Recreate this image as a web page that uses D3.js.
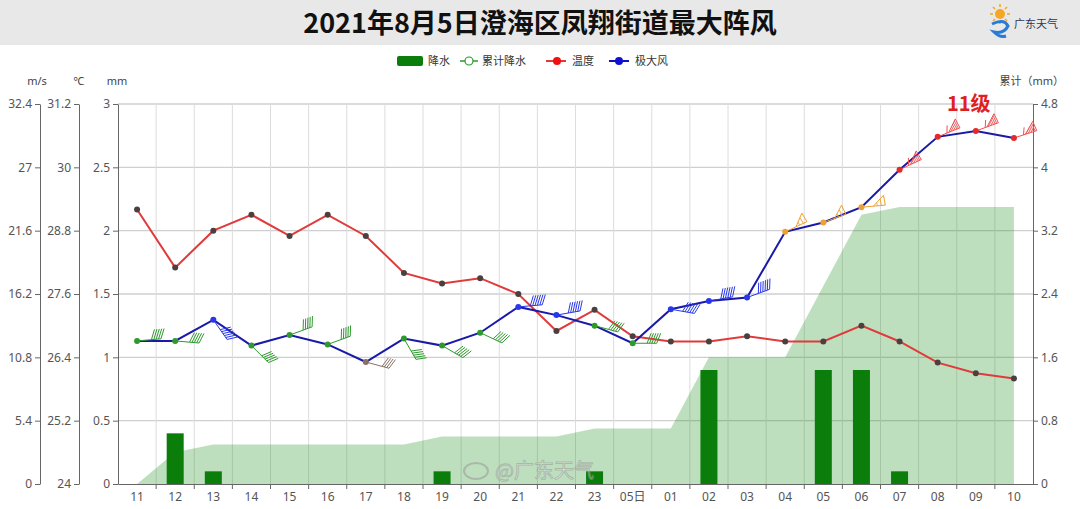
<!DOCTYPE html>
<html><head><meta charset="utf-8">
<script src="https://cdn.jsdelivr.net/npm/d3@7"></script>
<style>body{margin:0;background:#fff;} svg{display:block;font-family:"Noto Sans","Noto Sans CJK SC",sans-serif;}</style>
</head><body>
<svg id="c" width="1080" height="509"></svg>
<script>
const categories = ["11","12","13","14","15","16","17","18","19","20","21","22","23","05日","01","02","03","04","05","06","07","08","09","10"];
const rain = [0,0.4,0.1,0,0,0,0,0,0.1,0,0,0,0.1,0,0,0.9,0,0,0.9,0.9,0.1,0,0,0];
const cumRain = [0,0.4,0.5,0.5,0.5,0.5,0.5,0.5,0.6,0.6,0.6,0.6,0.7,0.7,0.7,1.6,1.6,1.6,2.5,3.4,3.5,3.5,3.5,3.5];
const temperature = [29.2,28.1,28.8,29.1,28.7,29.1,28.7,28.0,27.8,27.9,27.6,26.9,27.3,26.8,26.7,26.7,26.8,26.7,26.7,27.0,26.7,26.3,26.1,26.0];
const gust = [12.2,12.2,14.0,11.8,12.7,11.9,10.4,12.4,11.8,12.9,15.1,14.4,13.5,12.0,14.9,15.6,15.9,21.5,22.3,23.6,26.8,29.6,30.1,29.5];
const gustDir = [85,95,145,135,70,70,105,150,120,115,85,80,105,90,100,80,70,65,70,85,65,68,70,72];
const windTicks = [0,5.4,10.8,16.2,21.6,27,32.4];
const tempTicks = [24,25.2,26.4,27.6,28.8,30,31.2];
const mmTicks = [0,0.5,1,1.5,2,2.5,3];
const cumTicks = [0,0.8,1.6,2.4,3.2,4,4.8];
const beaufortLimits = [0.3,1.6,3.4,5.5,8.0,10.8,13.9,17.2,20.8,24.5,28.5,32.7];
const title = "2021年8月5日澄海区凤翔街道最大阵风";
const annotation = {cat:"09", text:"11级"};

const svg = d3.select("#c");
const L = 118, R = 1033, T = 104, B = 484;
const x = d3.scaleBand().domain(categories).range([L, R]);
const cx = c => x(c) + x.bandwidth()/2;
const yMm = d3.scaleLinear().domain([0,3]).range([B,T]);
const yWind = d3.scaleLinear().domain([0,32.4]).range([B,T]);
const yTemp = d3.scaleLinear().domain([24,31.2]).range([B,T]);
const yCum = d3.scaleLinear().domain([0,4.8]).range([B,T]);

// title bar
svg.append("rect").attr("x",0).attr("y",0).attr("width",1080).attr("height",45).attr("fill","#e8e8e8");
svg.append("text").attr("x",540).attr("y",33).attr("text-anchor","middle")
  .attr("font-family","'Noto Sans CJK SC'").attr("font-weight","bold").attr("font-size",27).attr("fill","#111").text(title);
// logo
const lg = svg.append("g");
lg.append("circle").attr("cx",1000).attr("cy",14).attr("r",5).attr("fill","#f5a623");
for(let i=0;i<8;i++){const a=i*Math.PI/4;lg.append("line").attr("x1",1000+Math.cos(a)*7).attr("y1",14+Math.sin(a)*7).attr("x2",1000+Math.cos(a)*10).attr("y2",14+Math.sin(a)*10).attr("stroke","#f5a623").attr("stroke-width",1.5);}
lg.append("path").attr("d","M992,24 Q1004,18 1008,26 Q1004,34 994,32 Q1000,38 1006,36").attr("fill","none").attr("stroke","#2a7bd4").attr("stroke-width",3);
lg.append("text").attr("x",1014).attr("y",28).attr("font-size",11).attr("fill","#335").attr("font-family","'Noto Sans CJK SC'").text("广东天气");

// grid
const g = svg.append("g");
g.selectAll(".hg").data(mmTicks.slice(1)).enter().append("line")
  .attr("x1",L).attr("x2",R).attr("y1",d=>yMm(d)).attr("y2",d=>yMm(d)).attr("stroke","#cfcfcf").attr("stroke-width",1.3);
g.selectAll(".vg").data(categories.slice(1)).enter().append("line")
  .attr("x1",d=>x(d)).attr("x2",d=>x(d)).attr("y1",T).attr("y2",B).attr("stroke","#dcdcdc").attr("stroke-width",1);

// cumulative rain area
svg.append("path").attr("fill","rgb(40,150,40)").attr("fill-opacity",0.3)
  .attr("d", d3.area().x((d,i)=>cx(categories[i])).y0(B).y1(d=>yCum(d))(cumRain));

// rain bars
const bw = 17;
rain.forEach((v,i)=>{ if(v>0) svg.append("rect").attr("x",cx(categories[i])-bw/2).attr("y",yMm(v)).attr("width",bw).attr("height",B-yMm(v)).attr("fill","#0b7d0b"); });

// axes
function styleAxis(sel){ sel.selectAll("path,line").attr("stroke","#666"); sel.selectAll("text").attr("fill","#555").attr("font-size",12).attr("font-family","'Noto Sans'"); }
const fmt = d=>String(+d.toFixed(1));
svg.append("g").attr("transform","translate(40,0)").call(d3.axisLeft(yWind).tickValues(windTicks).tickFormat(fmt).tickSize(5).tickSizeOuter(0)).call(styleAxis);
svg.append("g").attr("transform","translate(79,0)").call(d3.axisLeft(yTemp).tickValues(tempTicks).tickFormat(fmt).tickSize(5).tickSizeOuter(0)).call(styleAxis);
svg.append("g").attr("transform",`translate(${L},0)`).call(d3.axisLeft(yMm).tickValues(mmTicks).tickFormat(fmt).tickSize(5).tickSizeOuter(0)).call(styleAxis);
svg.append("g").attr("transform",`translate(${R},0)`).call(d3.axisRight(yCum).tickValues(cumTicks).tickFormat(fmt).tickSize(5).tickSizeOuter(0)).call(styleAxis);
const xa = svg.append("g").attr("transform",`translate(0,${B})`).call(d3.axisBottom(x).tickSize(0).tickSizeOuter(0).tickPadding(8)).call(styleAxis);
xa.selectAll("text").attr("font-family","'Noto Sans','Noto Sans CJK SC'");
xa.selectAll(".bt").data(categories.slice(1)).enter().append("line").attr("x1",d=>x(d)).attr("x2",d=>x(d)).attr("y1",0).attr("y2",5).attr("stroke","#666");

// axis unit labels
const ul = (t,xx,yy,anchor)=>svg.append("text").attr("x",xx).attr("y",yy).attr("text-anchor",anchor||"middle").attr("font-size",11).attr("fill","#444").attr("font-family","'Noto Sans','Noto Sans CJK SC'").text(t);
ul("m/s",37,85); ul("℃",79,85); ul("mm",117,85); ul("累计（mm）",1064,85,"end");

// temperature line
svg.append("path").attr("fill","none").attr("stroke","#e03a3a").attr("stroke-width",2)
  .attr("d", d3.line().x((d,i)=>cx(categories[i])).y(d=>yTemp(d))(temperature));
temperature.forEach((v,i)=>svg.append("circle").attr("cx",cx(categories[i])).attr("cy",yTemp(v)).attr("r",3).attr("fill","#4a4040"));

// gust line
function level(v){ let l=0; beaufortLimits.forEach((b,k)=>{ if(v>=b) l=k+1; }); return l; }
function lvColor(l){ return l<=5?"#8a6f62": l===6?"#2e9a2e": l<=8?"#2838e8": l===9?"#f0a030":"#f05050"; }
svg.append("path").attr("fill","none").attr("stroke","#1a1aa8").attr("stroke-width",2)
  .attr("d", d3.line().x((d,i)=>cx(categories[i])).y(d=>yWind(d))(gust));

// wind barbs
gust.forEach((v,i)=>{
  const px = cx(categories[i]), py = yWind(v), l = level(v), col = lvColor(l);
  const a = gustDir[i]*Math.PI/180; const ux = Math.sin(a), uy = -Math.cos(a);
  const nx = uy, ny = -ux; // ccw side
  const len = 24, ex = px+ux*len, ey = py+uy*len;
  const bg = svg.append("g").attr("stroke",col).attr("fill","none").attr("stroke-width",1);
  bg.append("line").attr("x1",px).attr("y1",py).attr("x2",ex).attr("y2",ey);
  if(l<=8){
    const n = l-1;
    for(let k=0;k<n;k++){ const sx=ex-ux*k*2.4, sy=ey-uy*k*2.4;
      bg.append("line").attr("x1",sx).attr("y1",sy).attr("x2",sx+nx*10+ux*4).attr("y2",sy+ny*10+uy*4); }
  } else {
    const bx=ex-ux*12, by=ey-uy*12, apx=ex+nx*10-ux*1, apy=ey+ny*10-uy*1;
    bg.append("path").attr("d",`M${ex},${ey}L${apx},${apy}L${bx},${by}`);
    const h = l>=10?6:2;
    for(let k=1;k<=h;k++){ const t=k/(h+1); const sx=bx+(ex-bx)*t, sy=by+(ey-by)*t;
      const qx=bx+(apx-bx)*t, qy=by+(apy-by)*t;
      bg.append("line").attr("x1",sx).attr("y1",sy).attr("x2",qx).attr("y2",qy).attr("stroke-width",0.9); }
    if(l>=10){ bg.append("line").attr("x1",ex-ux*14).attr("y1",ey-uy*14).attr("x2",ex-ux*14+nx*7+ux*3).attr("y2",ey-uy*14+ny*7+uy*3); }
  }
  svg.append("circle").attr("cx",px).attr("cy",py).attr("r",3).attr("fill",l>=10?"#e82828":col);
});

// annotation
svg.append("text").attr("x",cx(annotation.cat)-7).attr("y",111).attr("text-anchor","middle")
  .attr("font-size",20).attr("font-weight","bold").attr("fill","#e02020").attr("font-family","'Noto Sans CJK SC'").text(annotation.text);

// legend
const lgd = svg.append("g").attr("font-size",11).attr("fill","#333").attr("font-family","'Noto Sans CJK SC'");
lgd.append("rect").attr("x",397).attr("y",56).attr("width",26).attr("height",10).attr("rx",2).attr("fill","#0b7d0b");
lgd.append("text").attr("x",428).attr("y",65).text("降水");
lgd.append("line").attr("x1",460).attr("x2",478).attr("y1",61).attr("y2",61).attr("stroke","#2a9a2a").attr("stroke-width",1.5);
lgd.append("circle").attr("cx",469).attr("cy",61).attr("r",4).attr("fill","#fff").attr("stroke","#2a9a2a").attr("stroke-width",1.2);
lgd.append("text").attr("x",482).attr("y",65).text("累计降水");
lgd.append("line").attr("x1",546).attr("x2",566).attr("y1",61).attr("y2",61).attr("stroke","#e03a3a").attr("stroke-width",2);
lgd.append("circle").attr("cx",557).attr("cy",61).attr("r",4).attr("fill","#f01010");
lgd.append("text").attr("x",572).attr("y",65).text("温度");
lgd.append("line").attr("x1",609).attr("x2",629).attr("y1",61).attr("y2",61).attr("stroke","#1010c0").attr("stroke-width",2);
lgd.append("circle").attr("cx",619).attr("cy",61).attr("r",4).attr("fill","#1010d0");
lgd.append("text").attr("x",635).attr("y",65).text("极大风");

// watermark (kept just above the axis labels)
const wm = svg.append("g").attr("opacity",0.55);
wm.append("ellipse").attr("cx",476).attr("cy",471).attr("rx",12).attr("ry",8).attr("fill","none").attr("stroke","#999").attr("stroke-width",2);
wm.append("text").attr("x",495).attr("y",478).attr("font-size",20).attr("font-family","'Noto Sans CJK SC'").attr("fill","#fff").attr("stroke","#999").attr("stroke-width",1).text("@广东天气");
</script>
</body></html>
